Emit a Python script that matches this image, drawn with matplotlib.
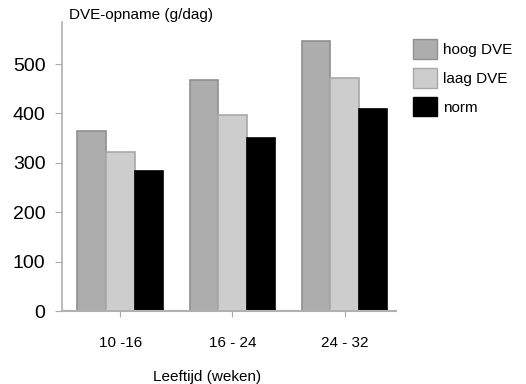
import matplotlib.pyplot as plt
import numpy as np
from matplotlib.patches import Patch

# data
categories = ['10 -16', '16 - 24', '24 - 32']
hoog = [365, 468, 547]
laag = [321, 397, 472]
norm = [283, 351, 408]
series_names = ['hoog DVE', 'laag DVE', 'norm']

plt.rcParams['font.family'] = ['Liberation Sans', 'DejaVu Sans']

fig = plt.figure(figsize=(5.26, 3.84), dpi=100)
ax = fig.add_axes([0.118, 0.19, 0.635, 0.7526])

x = np.arange(len(categories))
w = 0.255
colors = ['#adadad', '#cdcdcd', '#000000']
edges = ['#8f8f8f', '#a8a8a8', '#000000']
for i, vals in enumerate([hoog, laag, norm]):
    ax.bar(x + (i - 1) * w, vals, w, color=colors[i], edgecolor=edges[i], linewidth=1.2)

ax.set_xlim(-0.52, 2.46)
ax.set_ylim(0, 585)
ax.set_yticks([0, 100, 200, 300, 400, 500])
ax.set_xticks(x)
ax.set_xticklabels(categories, fontsize=11)
ax.tick_params(axis='y', labelsize=14, length=5, color='#aaaaaa', pad=7)
ax.tick_params(axis='x', length=4, color='#aaaaaa', pad=14)

for s in ['top', 'right']:
    ax.spines[s].set_visible(False)
ax.spines['left'].set_color('#b0b0b0')
ax.spines['bottom'].set_color('#b0b0b0')
ax.spines['left'].set_linewidth(1.2)
ax.spines['bottom'].set_linewidth(1.5)

fig.text(0.131, 0.96, 'DVE-opname (g/dag)', fontsize=11, va='center', ha='left')
fig.text(0.394, 0.018, 'Leeftijd (weken)', fontsize=11, va='center', ha='center')

handles = [Patch(facecolor=colors[i], edgecolor=edges[i]) for i in range(3)]
fig.legend(handles, series_names, loc='upper left', bbox_to_anchor=(0.785, 0.898),
           frameon=False, fontsize=11, handlelength=1.55, handleheight=1.6,
           labelspacing=0.6, handletextpad=0.45, borderpad=0, borderaxespad=0)

fig.savefig('out.png', dpi=100)
